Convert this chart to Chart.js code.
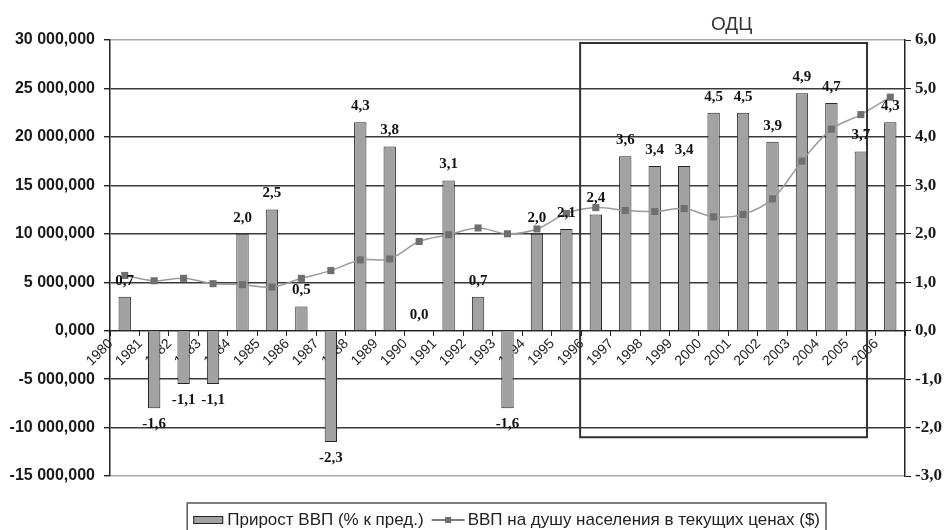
<!DOCTYPE html>
<html>
<head>
<meta charset="utf-8">
<script src="https://cdn.jsdelivr.net/npm/chart.js@4/dist/chart.umd.min.js"></script>
<style>
  html, body { margin: 0; padding: 0; background: #ffffff; }
  #wrap { width: 946px; height: 530px; }
</style>
</head>
<body>
<div id="wrap"><canvas id="c" width="946" height="530"></canvas></div>
<script>
// Years on the category axis
const years = ['1980','1981','1982','1983','1984','1985','1986','1987','1988','1989',
               '1990','1991','1992','1993','1994','1995','1996','1997','1998','1999',
               '2000','2001','2002','2003','2004','2005','2006'];

// GDP growth, % to previous year (right axis)
const gdpGrowth = [0.7, -1.6, -1.1, -1.1, 2.0, 2.5, 0.5, -2.3, 4.3, 3.8,
                   0.0, 3.1, 0.7, -1.6, 2.0, 2.1, 2.4, 3.6, 3.4, 3.4,
                   4.5, 4.5, 3.9, 4.9, 4.7, 3.7, 4.3];

// GDP per capita in current prices, $ (left axis)
const gdpPerCapita = [5700, 5150, 5400, 4850, 4750, 4500, 5400, 6200, 7300, 7400,
                      9200, 9900, 10600, 10000, 10500, 12100, 12700, 12400, 12300, 12600,
                      11750, 12000, 13600, 17500, 20800, 22300, 24100];

const seriesNames = ['Прирост ВВП (% к пред.)', 'ВВП на душу населения в текущих ценах ($)'];

// Left axis range / step, right axis range / step
const leftAxis = { min: -15000, max: 30000, step: 5000 };
const rightAxis = { min: -3, max: 6, step: 1 };

// Highlighted period
const odcLabel = 'ОДЦ';
const odcFirstYear = '1996';
const odcLastYear = '2005';
const odcBottom = -2.2; // right-axis units

const BAR_FILL = '#a2a2a2';
const BAR_EDGE = '#262626';
const LINE_COLOR = '#9a9a9a';
const MARK_COLOR = '#6f6f6f';
const SANS = '"Liberation Sans", Arial, sans-serif';
const SERIF = '"Liberation Serif", "Times New Roman", serif';

function fmtLeft(v) {
  const s = Math.abs(v).toString().replace(/\B(?=(\d{3})+(?!\d))/g, ' ');
  return (v < 0 ? '-' : '') + s + ',000';
}
function fmtOne(v) {
  return v.toFixed(1).replace('.', ',');
}

// Framed period with its caption
const odcBox = {
  id: 'odcBox',
  afterDatasetsDraw(chart) {
    const { ctx, chartArea, scales } = chart;
    const xs = scales.x;
    const i0 = years.indexOf(odcFirstYear), i1 = years.indexOf(odcLastYear);
    const half = (xs.getPixelForValue(1) - xs.getPixelForValue(0)) / 2;
    const lastBar = chart.getDatasetMeta(0).data[i1];
    const left = xs.getPixelForValue(i0) - half - 1;
    const right = lastBar.x + lastBar.width / 2;
    const top = chartArea.top + 3;
    const bottom = scales.y1.getPixelForValue(odcBottom);
    ctx.save();
    ctx.strokeStyle = '#333333';
    ctx.lineWidth = 2;
    ctx.strokeRect(left, top, right - left, bottom - top);
    ctx.fillStyle = '#333333';
    ctx.font = '19px ' + SANS;
    ctx.textAlign = 'center';
    ctx.textBaseline = 'alphabetic';
    ctx.fillText(odcLabel, (left + right) / 2 + 8, 30);
    ctx.restore();
  }
};

// Value labels over / under the bars
const barValues = {
  id: 'barValues',
  afterDatasetsDraw(chart) {
    const { ctx } = chart;
    const meta = chart.getDatasetMeta(0);
    const data = chart.data.datasets[0].data;
    ctx.save();
    ctx.fillStyle = '#111111';
    ctx.font = 'bold 15px ' + SERIF;
    ctx.textAlign = 'center';
    ctx.textBaseline = 'middle';
    meta.data.forEach((bar, i) => {
      const v = data[i];
      const y = v < 0 ? bar.y + 16 : bar.y - 16;
      ctx.fillText(fmtOne(v), bar.x, y);
    });
    ctx.restore();
  }
};

// Boxed legend under the plot
const boxedLegend = {
  id: 'boxedLegend',
  afterDraw(chart) {
    const { ctx } = chart;
    ctx.save();
    ctx.font = '17px ' + SANS;
    const w1 = ctx.measureText(seriesNames[0]).width;
    const w2 = ctx.measureText(seriesNames[1]).width;
    const pad = 6, sw = 30, gap = 4, between = 8, lw = 33;
    const total = pad + sw + gap + w1 + between + lw + 3 + w2 + pad;
    const right = 826;
    let x = right - total;
    const top = 503, cy = 520;
    ctx.strokeStyle = '#555555';
    ctx.lineWidth = 1.5;
    ctx.strokeRect(x, top, total, 40);
    x += pad;
    ctx.fillStyle = BAR_FILL;
    ctx.fillRect(x, cy - 4, sw, 8);
    ctx.strokeStyle = BAR_EDGE;
    ctx.lineWidth = 1;
    ctx.strokeRect(x + 0.5, cy - 3.5, sw - 1, 7);
    x += sw + gap;
    ctx.fillStyle = '#222222';
    ctx.textAlign = 'left';
    ctx.textBaseline = 'middle';
    ctx.fillText(seriesNames[0], x, cy);
    x += w1 + between;
    ctx.strokeStyle = '#555555';
    ctx.lineWidth = 1.5;
    ctx.beginPath();
    ctx.moveTo(x, cy);
    ctx.lineTo(x + lw, cy);
    ctx.stroke();
    ctx.fillStyle = MARK_COLOR;
    ctx.fillRect(x + lw / 2 - 3, cy - 3, 6, 6);
    x += lw + 3;
    ctx.fillStyle = '#222222';
    ctx.fillText(seriesNames[1], x, cy);
    ctx.restore();
  }
};

new Chart(document.getElementById('c'), {
  data: {
    labels: years,
    datasets: [
      {
        type: 'bar',
        label: seriesNames[0],
        data: gdpGrowth,
        yAxisID: 'y1',
        backgroundColor: BAR_FILL,
        borderColor: BAR_EDGE,
        borderWidth: 1,
        barPercentage: 0.42,
        categoryPercentage: 1.0,
        order: 2
      },
      {
        type: 'line',
        label: seriesNames[1],
        data: gdpPerCapita,
        yAxisID: 'y',
        borderColor: LINE_COLOR,
        borderWidth: 1.5,
        tension: 0.35,
        pointStyle: 'rect',
        pointRadius: 5,
        pointBackgroundColor: MARK_COLOR,
        pointBorderWidth: 0,
        order: 1
      }
    ]
  },
  options: {
    responsive: false,
    animation: false,
    devicePixelRatio: 1,
    layout: { padding: { top: 40, bottom: 54, left: 0, right: 0 } },
    plugins: {
      legend: { display: false },
      tooltip: { enabled: false }
    },
    scales: {
      x: {
        type: 'category',
        position: { y: 0 },
        offset: true,
        grid: {
          drawOnChartArea: false,
          drawTicks: true,
          tickLength: 5,
          offset: true,
          color: '#222222'
        },
        border: { display: true, color: '#222222', width: 1 },
        ticks: {
          autoSkip: false,
          maxRotation: 45,
          minRotation: 45,
          labelOffset: -14,
          padding: 0,
          color: '#222222',
          font: { family: SANS, size: 14 }
        }
      },
      y: {
        position: 'left',
        min: leftAxis.min,
        max: leftAxis.max,
        afterFit(s) { s.width = 110; },
        ticks: {
          stepSize: leftAxis.step,
          padding: 9,
          color: '#1a1a1a',
          font: { family: SANS, size: 16, weight: 'bold' },
          callback: (v) => fmtLeft(v)
        },
        grid: {
          color: (c) => (c.tick && (c.tick.value === leftAxis.max || c.tick.value === leftAxis.min)) ? '#a8a8a8' : '#3a3a3a',
          lineWidth: 1.4,
          tickLength: 6,
          tickColor: '#222222'
        },
        border: { display: true, color: '#222222', width: 1.5 }
      },
      y1: {
        position: 'right',
        min: rightAxis.min,
        max: rightAxis.max,
        afterFit(s) { s.width = 41; },
        ticks: {
          stepSize: rightAxis.step,
          padding: 4,
          color: '#1a1a1a',
          font: { family: SERIF, size: 17, weight: 'bold' },
          callback: (v) => fmtOne(v)
        },
        grid: {
          drawOnChartArea: false,
          tickLength: 6,
          tickColor: '#222222'
        },
        border: { display: true, color: '#222222', width: 1.5 }
      }
    }
  },
  plugins: [odcBox, barValues, boxedLegend]
});
</script>
</body>
</html>
